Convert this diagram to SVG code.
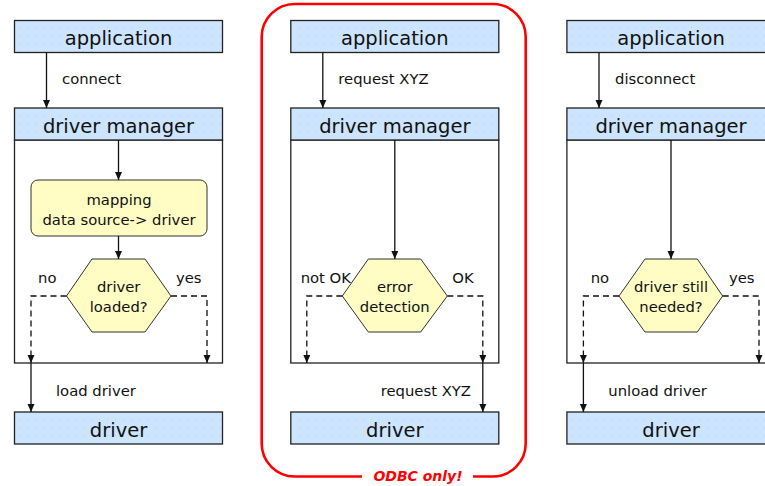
<svg xmlns="http://www.w3.org/2000/svg" width="765" height="486" viewBox="0 0 765 486">
<defs>
<marker id="arr" markerUnits="userSpaceOnUse" markerWidth="9" markerHeight="8" refX="8" refY="4" orient="auto">
<path d="M0,0.5 L8,4 L0,7.5 z" fill="#111"/>
</marker>
<pattern id="dots" width="8" height="8" patternUnits="userSpaceOnUse">
<rect width="8" height="8" fill="#cce4fd"/>
<rect x="3" y="3" width="1" height="1" fill="#b4d4f4"/>
</pattern>
</defs>
<style>
.hdr{fill:url(#dots);stroke:#222;stroke-width:1.3}
.cont{fill:#fff;stroke:#222;stroke-width:1.3}
.proc{fill:#fffdc4;stroke:#333;stroke-width:1}
.big{font-family:"DejaVu Sans",Verdana,sans-serif;font-size:19.5px;fill:#111;text-anchor:middle}
.sm{font-family:"DejaVu Sans",Verdana,sans-serif;font-size:14.8px;fill:#111}
.mid{text-anchor:middle}
.ln{fill:none;stroke:#111;stroke-width:1.3}
.dash{fill:none;stroke:#111;stroke-width:1.3;stroke-dasharray:6,4}
.odbc{font-family:"DejaVu Sans",Verdana,sans-serif;font-size:14px;font-weight:bold;font-style:italic;fill:#f00;text-anchor:middle}
</style>
<rect width="765" height="486" fill="#fff"/>

<g id="col1">
<g id="app1"><rect class="hdr" x="14.5" y="20.5" width="208" height="32"/><text class="big" x="118.5" y="45">application</text></g>
<g id="dm1"><rect class="cont" x="14.5" y="140" width="208" height="223"/><rect class="hdr" x="14.5" y="108" width="208" height="32"/><text class="big" x="118.5" y="133">driver manager</text></g>
<g id="map1"><rect class="proc" x="31" y="180" width="176" height="56" rx="7"/><text class="sm mid" x="119" y="205">mapping</text><text class="sm mid" x="119" y="225">data source-&gt; driver</text></g>
<g id="hex1"><polygon class="proc" points="92,259 145,259 171,296 145,332 92,332 66.5,296"/><text class="sm mid" x="118.7" y="292">driver</text><text class="sm mid" x="118.7" y="312">loaded?</text></g>
<g id="drv1"><rect class="hdr" x="14.5" y="412" width="208" height="32"/><text class="big" x="118.5" y="437">driver</text></g>
</g>

<g id="col2">
<g id="app2"><rect class="hdr" x="290.8" y="20.5" width="208" height="32"/><text class="big" x="394.8" y="45">application</text></g>
<g id="dm2"><rect class="cont" x="290.8" y="140" width="208" height="223"/><rect class="hdr" x="290.8" y="108" width="208" height="32"/><text class="big" x="394.8" y="133">driver manager</text></g>
<g id="hex2"><polygon class="proc" points="368.3,259 420.7,259 447.3,296 420.7,332 368.3,332 342.3,296"/><text class="sm mid" x="394.8" y="292">error</text><text class="sm mid" x="394.8" y="312">detection</text></g>
<g id="drv2"><rect class="hdr" x="290.8" y="412" width="208" height="32"/><text class="big" x="394.8" y="437">driver</text></g>
</g>

<g id="col3">
<g id="app3"><rect class="hdr" x="566.9" y="20.5" width="208" height="32"/><text class="big" x="671" y="45">application</text></g>
<g id="dm3"><rect class="cont" x="566.9" y="140" width="208" height="223"/><rect class="hdr" x="566.9" y="108" width="208" height="32"/><text class="big" x="671" y="133">driver manager</text></g>
<g id="hex3"><polygon class="proc" points="645,259 697.3,259 722.7,296 697.3,332 645,332 619,296"/><text class="sm mid" x="671" y="292">driver still</text><text class="sm mid" x="671" y="312">needed?</text></g>
<g id="drv3"><rect class="hdr" x="566.9" y="412" width="208" height="32"/><text class="big" x="671" y="437">driver</text></g>
</g>

<g id="connectors">
<line class="ln" x1="46.5" y1="52.5" x2="46.5" y2="108" marker-end="url(#arr)"/>
<line class="ln" x1="118.5" y1="140" x2="118.5" y2="180" marker-end="url(#arr)"/>
<line class="ln" x1="118.5" y1="236" x2="118.5" y2="259" marker-end="url(#arr)"/>
<polyline class="dash" points="66.5,296 31,296 31,363" marker-end="url(#arr)"/>
<polyline class="dash" points="171,296 207,296 207,363" marker-end="url(#arr)"/>
<line class="ln" x1="31" y1="363" x2="31" y2="412" marker-end="url(#arr)"/>

<line class="ln" x1="322.8" y1="52.5" x2="322.8" y2="108" marker-end="url(#arr)"/>
<line class="ln" x1="394.8" y1="140" x2="394.8" y2="259" marker-end="url(#arr)"/>
<polyline class="dash" points="342.3,296 306.8,296 306.8,363" marker-end="url(#arr)"/>
<polyline class="dash" points="447.3,296 482.8,296 482.8,363" marker-end="url(#arr)"/>
<line class="ln" x1="482.8" y1="363" x2="482.8" y2="412" marker-end="url(#arr)"/>

<line class="ln" x1="599" y1="52.5" x2="599" y2="108" marker-end="url(#arr)"/>
<line class="ln" x1="671" y1="140" x2="671" y2="259" marker-end="url(#arr)"/>
<polyline class="dash" points="619,296 583.4,296 583.4,363" marker-end="url(#arr)"/>
<polyline class="dash" points="722.7,296 759,296 759,363" marker-end="url(#arr)"/>
<line class="ln" x1="583.4" y1="363" x2="583.4" y2="412" marker-end="url(#arr)"/>

<text class="sm" x="62" y="84">connect</text>
<text class="sm" x="56" y="396">load driver</text>
<text class="sm" x="38" y="283">no</text>
<text class="sm" x="176" y="283">yes</text>
<text class="sm" x="338.3" y="84">request XYZ</text>
<text class="sm" x="380.7" y="396">request XYZ</text>
<text class="sm" x="300.7" y="283">not OK</text>
<text class="sm" x="452.3" y="283">OK</text>
<text class="sm" x="615" y="84">disconnect</text>
<text class="sm" x="608.3" y="396">unload driver</text>
<text class="sm" x="590.7" y="283">no</text>
<text class="sm" x="729" y="283">yes</text>
</g>

<g id="odbc">
<path d="M362,476.5 H294.7 A33,33 0 0 1 261.7,443.5 V37 A33,33 0 0 1 294.7,4 H492.7 A33,33 0 0 1 525.7,37 V443.5 A33,33 0 0 1 492.7,476.5 H473" fill="none" stroke="#f00" stroke-width="2.6"/>
<text class="odbc" x="418" y="481">ODBC only!</text>
</g>
</svg>
